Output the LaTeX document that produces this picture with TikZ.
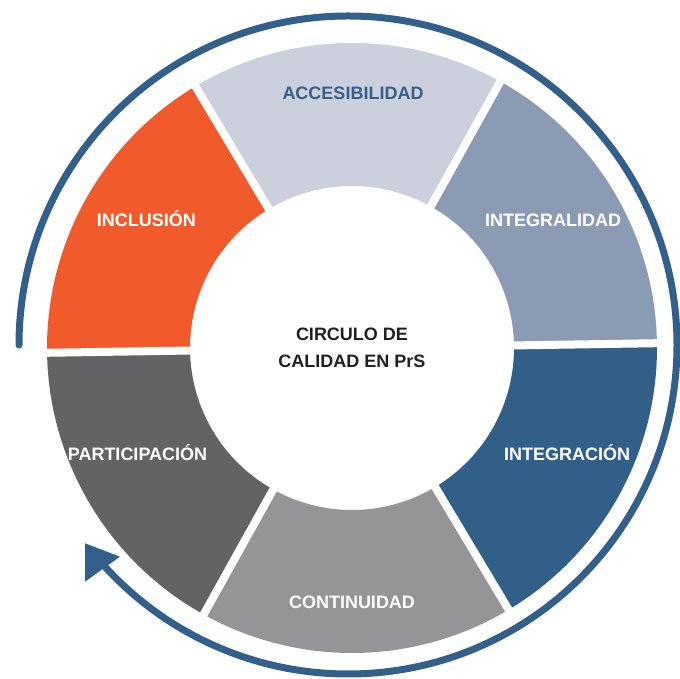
\documentclass[tikz,border=0pt]{standalone}
\usepackage{fontspec}
\setmainfont{Liberation Sans}
\definecolor{cIncl}{HTML}{F15A2B}
\definecolor{cAcc}{HTML}{CCD0DD}
\definecolor{cIntegral}{HTML}{8C9BB4}
\definecolor{cIntegra}{HTML}{325F88}
\definecolor{cCont}{HTML}{959598}
\definecolor{cPart}{HTML}{636365}
\definecolor{arcblue}{HTML}{32608A}
\definecolor{txtblue}{HTML}{33608C}
\definecolor{txtdark}{HTML}{231F20}
\begin{document}
\begin{tikzpicture}[x=1pt,y=1pt,
  lab/.style={font=\fontsize{18}{27}\selectfont\bfseries, inner sep=0pt, anchor=base, text=white},
  gapline/.style={white, line width=8pt}]
\useasboundingbox (0,0) rectangle (680,679);
% segments
\begin{scope}[shift={(352,331)}]
  \foreach \a/\col in {0.9/cIntegral, 60.9/cAcc, 120.9/cIncl, 180.9/cPart, 240.9/cCont, 300.9/cIntegra}{
    \fill[\col] (\a:305pt) arc[start angle=\a, end angle=\a+60, radius=305pt]
      -- ({\a+60}:162pt) arc[start angle=\a+60, end angle=\a, radius=162pt] -- cycle;
  }
  \foreach \a in {0.9, 60.9, 120.9, 180.9, 240.9, 300.9}{
    \draw[gapline] (\a:150pt) -- (\a:315pt);
  }
  \node[font=\fontsize{18}{27}\selectfont\bfseries, text=txtdark, align=center, inner sep=0pt] (center) at (0,0.5) {CIRCULO DE\\CALIDAD EN PrS};
\end{scope}
% outer arrow arc
\begin{scope}[shift={(348,334)}]
  \draw[arcblue, line width=7pt, line cap=round] (180:329pt) arc[start angle=180, end angle=-137.5, radius=329pt];
\end{scope}
\fill[arcblue] (85,135.7) -- (85,97.3) -- (120,122.3) -- cycle;
% labels
\node[lab, text=txtblue] (acc) at (353,579.3) {ACCESIBILIDAD};
\node[lab] (incl) at (146.3,452.1) {INCLUSIÓN};
\node[lab] (integral) at (553,452.1) {INTEGRALIDAD};
\node[lab] (integra) at (567,218.8) {INTEGRACIÓN};
\node[lab] (part) at (137.5,218.8) {PARTICIPACIÓN};
\node[lab] (cont) at (352,70.6) {CONTINUIDAD};
\end{tikzpicture}
\end{document}
